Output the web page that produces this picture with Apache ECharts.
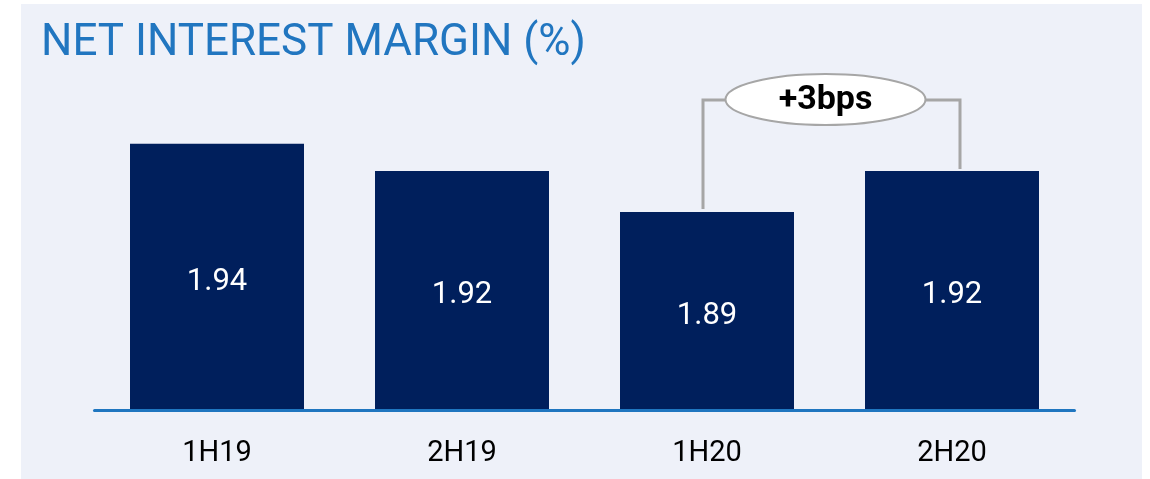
<!DOCTYPE html>
<html>
<head>
<meta charset="utf-8">
<title>Net interest margin</title>
<script src="https://cdn.jsdelivr.net/npm/echarts@6/dist/echarts.min.js"></script>
<style>
  html, body { margin: 0; padding: 0; background: #ffffff; }
  #main { width: 1150px; height: 479px; }
</style>
</head>
<body>
<div id="main"></div>
<script type="text/javascript">
// data
var categories = ['1H19', '2H19', '1H20', '2H20'];
var nim = [1.94, 1.92, 1.89, 1.92];
var titleText = 'NET INTEREST MARGIN (%)';
var changeText = '+3bps';
var changeFrom = 2, changeTo = 3;   // 1H20 -> 2H20

var FONT = 'Roboto, "Liberation Sans", sans-serif';

var chart = echarts.init(document.getElementById('main'));

var panel = {
    type: 'rect',
    z: -10,
    silent: true,
    shape: { x: 21, y: 4, width: 1121, height: 475 },
    style: { fill: '#eef1f9' }
};

var option = {
    backgroundColor: '#ffffff',
    animation: false,
    title: {
        text: titleText,
        left: 41,
        top: 22,
        padding: 0,
        textStyle: {
            color: '#2176c0',
            fontFamily: FONT,
            fontWeight: 'normal',
            fontSize: 44,
            lineHeight: 44
        }
    },
    grid: {
        left: 94.5,
        right: 75.5,
        top: 96,
        bottom: 69
    },
    xAxis: {
        type: 'category',
        data: categories,
        z: 5,
        axisLine: { lineStyle: { color: '#1f76c0', width: 3 } },
        axisTick: { show: false },
        axisLabel: {
            color: '#000000',
            fontFamily: FONT,
            fontSize: 29,
            lineHeight: 30,
            margin: 29
        }
    },
    yAxis: {
        type: 'value',
        min: 1.745,
        max: 1.975,
        show: false
    },
    series: [{
        type: 'bar',
        data: nim,
        barWidth: 174,
        itemStyle: { color: '#001f5c' },
        label: {
            show: true,
            position: 'inside',
            offset: [0, 5],
            color: '#ffffff',
            fontFamily: FONT,
            fontSize: 31,
            formatter: function (p) { return p.value.toFixed(2); }
        }
    }],
    graphic: [panel]
};

chart.setOption(option);

// bracket annotation between two bars
function drawBracket() {
    var a = chart.convertToPixel({ seriesIndex: 0 }, [changeFrom, nim[changeFrom]]);
    var b = chart.convertToPixel({ seriesIndex: 0 }, [changeTo, nim[changeTo]]);
    var xl = a[0] - 4, xr = b[0] + 8;
    var yTop = 100;
    var cx = (xl + xr) / 2 - 6;
    var grey = '#a6a6a6';
    chart.setOption({
        graphic: [panel, {
            type: 'polyline',
            z: 10,
            shape: { points: [[xl, a[1] - 3], [xl, yTop], [cx, yTop]] },
            style: { stroke: grey, lineWidth: 3, fill: null }
        }, {
            type: 'polyline',
            z: 10,
            shape: { points: [[cx, yTop], [xr, yTop], [xr, b[1] - 2]] },
            style: { stroke: grey, lineWidth: 3, fill: null }
        }, {
            type: 'ellipse',
            z: 11,
            shape: { cx: cx, cy: yTop - 0.5, rx: 100, ry: 25.5 },
            style: { fill: '#ffffff', stroke: grey, lineWidth: 2 }
        }, {
            type: 'text',
            z: 12,
            x: cx,
            y: yTop,
            style: {
                text: changeText,
                fill: '#000000',
                font: 'bold 34px ' + FONT,
                align: 'center',
                verticalAlign: 'middle'
            }
        }]
    }, { replaceMerge: ['graphic'] });
}
drawBracket();
</script>
</body>
</html>
